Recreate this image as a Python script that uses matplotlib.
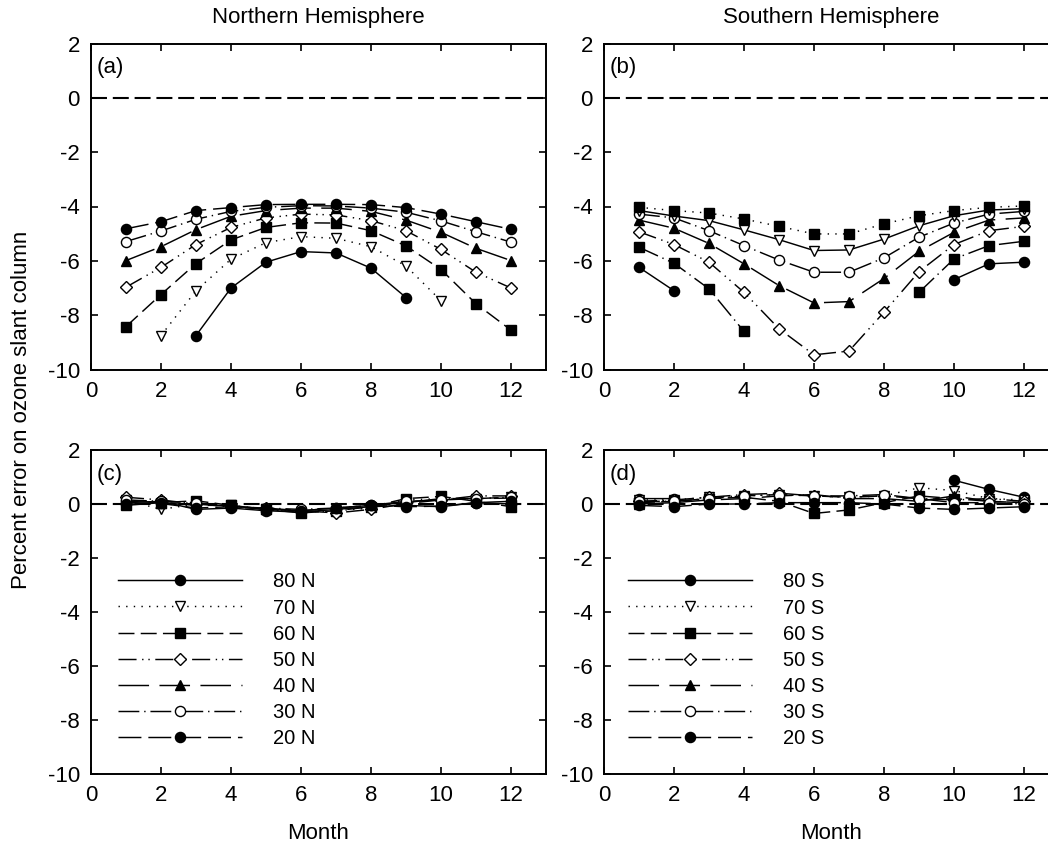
import numpy as np
import matplotlib
matplotlib.use("Agg")
import matplotlib.pyplot as plt

plt.rcParams['font.family'] = ['Liberation Sans', 'DejaVu Sans']
plt.rcParams['lines.scale_dashes'] = False
plt.rcParams['axes.unicode_minus'] = False

months = np.arange(1, 13)
nan = np.nan

# ---- Panel (a): Northern Hemisphere, before correction ----
nh_labels = ['80 N', '70 N', '60 N', '50 N', '40 N', '30 N', '20 N']
a_80n = [nan, nan, -8.75, -7.00, -6.05, -5.66, -5.71, -6.27, -7.35, nan, nan, nan]
a_70n = [nan, -8.75, -7.10, -5.94, -5.33, -5.11, -5.17, -5.48, -6.19, -7.47, nan, nan]
a_60n = [-8.42, -7.24, -6.10, -5.23, -4.77, -4.60, -4.61, -4.89, -5.45, -6.32, -7.58, -8.55]
a_50n = [-6.97, -6.24, -5.40, -4.77, -4.42, -4.28, -4.31, -4.52, -4.89, -5.58, -6.42, -7.00]
a_40n = [-5.99, -5.48, -4.85, -4.36, -4.15, -4.06, -4.06, -4.18, -4.50, -4.95, -5.54, -5.99]
a_30n = [-5.29, -4.90, -4.47, -4.18, -4.03, -3.97, -3.98, -4.06, -4.21, -4.53, -4.93, -5.31]
a_20n = [-4.82, -4.56, -4.15, -4.04, -3.93, -3.92, -3.92, -3.93, -4.04, -4.28, -4.56, -4.84]

# ---- Panel (b): Southern Hemisphere, before correction ----
sh_labels = ['80 S', '70 S', '60 S', '50 S', '40 S', '30 S', '20 S']
b_80s = [-6.24, -7.10, nan, nan, nan, nan, nan, nan, nan, -6.69, -6.11, -6.05]
b_70s = [-5.50, -6.09, -7.03, -8.60, nan, nan, nan, nan, -7.16, -5.93, -5.44, -5.28]
b_60s = [-4.93, -5.40, -6.05, -7.16, -8.50, -9.46, -9.32, -7.89, -6.40, -5.40, -4.89, -4.73]
b_50s = [-4.50, -4.80, -5.36, -6.11, -6.91, -7.55, -7.50, -6.65, -5.65, -4.95, -4.50, -4.42]
b_40s = [-4.28, -4.42, -4.89, -5.44, -5.97, -6.42, -6.42, -5.89, -5.13, -4.61, -4.28, -4.18]
b_30s = [-4.15, -4.35, -4.52, -4.86, -5.22, -5.62, -5.60, -5.20, -4.71, -4.34, -4.13, -4.08]
b_20s = [-4.03, -4.15, -4.24, -4.46, -4.73, -5.01, -5.01, -4.64, -4.34, -4.15, -4.03, -3.98]

# ---- Panel (c): Northern Hemisphere, after correction ----
c_80n = [0.05, 0.10, -0.20, -0.15, -0.25, -0.30, -0.20, -0.10, -0.05, -0.10, 0.05, 0.00]
c_70n = [0.15, -0.20, 0.00, -0.05, -0.20, -0.30, -0.25, -0.15, 0.15, 0.20, 0.20, 0.25]
c_60n = [-0.05, 0.05, 0.12, -0.05, -0.20, -0.33, -0.25, -0.10, 0.20, 0.28, 0.10, -0.10]
c_50n = [0.25, 0.15, 0.00, -0.10, -0.15, -0.25, -0.33, -0.20, 0.02, 0.15, 0.30, 0.30]
c_40n = [0.10, 0.05, -0.05, -0.05, -0.20, -0.25, -0.15, -0.05, 0.05, 0.20, 0.20, 0.22]
c_30n = [0.15, 0.10, 0.05, -0.10, -0.15, -0.20, -0.15, -0.05, 0.10, 0.15, 0.20, 0.25]
c_20n = [0.00, 0.02, -0.15, -0.10, -0.20, -0.25, -0.15, -0.05, -0.10, -0.08, 0.05, 0.10]

# ---- Panel (d): Southern Hemisphere, after correction ----
d_80s = [0.20, 0.20, nan, nan, nan, nan, nan, nan, nan, 0.88, 0.54, 0.25]
d_70s = [0.15, 0.15, 0.25, 0.30, 0.35, 0.30, 0.25, 0.30, 0.60, 0.50, 0.20, 0.15]
d_60s = [0.05, 0.10, 0.20, 0.25, 0.10, -0.35, -0.22, 0.05, 0.30, 0.20, 0.10, 0.05]
d_50s = [0.10, 0.15, 0.25, 0.35, 0.40, 0.30, 0.25, 0.30, 0.20, 0.15, 0.20, 0.10]
d_40s = [0.00, 0.05, 0.15, 0.20, 0.30, 0.35, 0.20, 0.20, 0.10, 0.30, 0.10, 0.05]
d_30s = [0.10, 0.10, 0.20, 0.30, 0.35, 0.30, 0.30, 0.35, 0.20, 0.05, 0.05, 0.00]
d_20s = [-0.05, -0.10, 0.00, 0.00, 0.05, 0.05, 0.05, 0.00, -0.15, -0.20, -0.15, -0.10]

# ---- styles (gnuplot-like) ----
LS = {
    'solid': '-',
    'dot': (0, (1.0, 4.5)),
    'dash': (0, (11.5, 4.5)),
    'dashdotdot': (0, (13, 4, 1, 3.5, 1, 4)),
    'longdash': (0, (22, 7.5)),
    'dashdot': (0, (15, 3.5, 1, 3.5)),
    'dash2': (0, (16.5, 5)),
}
MK = {
    'fcircle': dict(marker='o', mfc='black', ms=7.3),
    'ocircle': dict(marker='o', mfc='white', ms=7.3),
    'fsquare': dict(marker='s', mfc='black', ms=6.8),
    'otri_dn': dict(marker='v', mfc='white', ms=7.8),
    'odiamond': dict(marker='D', mfc='white', ms=5.8),
    'ftri_up': dict(marker='^', mfc='black', ms=7.8),
}
legend_ls = ['solid', 'dot', 'dash', 'dashdotdot', 'longdash', 'dashdot', 'dash2']
legend_mk = ['fcircle', 'otri_dn', 'fsquare', 'odiamond', 'ftri_up', 'ocircle', 'fcircle']
# visual style per curve in panel (b)
b_ls = ['solid', 'dashdot', 'dashdotdot', 'longdash', 'dashdot', 'solid', 'dot']
b_mk = ['fcircle', 'fsquare', 'odiamond', 'ftri_up', 'ocircle', 'otri_dn', 'fsquare']

W, H = 1048, 852
fig = plt.figure(figsize=(W / 100, H / 100), dpi=100)


def make_ax(left, top, width, height):
    return fig.add_axes([left / W, 1 - (top + height) / H, width / W, height / H])


ax_a = make_ax(91, 43.5, 455, 326)
ax_b = make_ax(604, 43.5, 455, 326)
ax_c = make_ax(91, 450, 455, 324)
ax_d = make_ax(604, 450, 455, 324)

FS = 16
LW = 1.05


def draw(ax, series, ls_list, mk_list, labels):
    for vals, ls, mk, lab in zip(series, ls_list, mk_list, labels):
        ax.plot(months, vals, linestyle=LS[ls], color='black', lw=LW,
                mec='black', mew=1.0, label=lab, **MK[mk])


draw(ax_a, [a_80n, a_70n, a_60n, a_50n, a_40n, a_30n, a_20n], legend_ls, legend_mk, nh_labels)
draw(ax_b, [b_80s, b_70s, b_60s, b_50s, b_40s, b_30s, b_20s], b_ls, b_mk, sh_labels)
draw(ax_c, [c_80n, c_70n, c_60n, c_50n, c_40n, c_30n, c_20n], legend_ls, legend_mk, nh_labels)
draw(ax_d, [d_80s, d_70s, d_60s, d_50s, d_40s, d_30s, d_20s], legend_ls, legend_mk, sh_labels)

for ax, lab in zip([ax_a, ax_b, ax_c, ax_d], ['(a)', '(b)', '(c)', '(d)']):
    ax.axhline(0, color='black', lw=1.5, linestyle=(0, (11.5, 4.2)), zorder=0.5)
    ax.set_xlim(0, 13)
    ax.set_ylim(-10, 2)
    ax.set_xticks(np.arange(0, 13, 2))
    ax.set_yticks(np.arange(-10, 3, 2))
    ax.tick_params(direction='in', length=5, width=1.2, top=True, right=True,
                   labelsize=FS)
    ax.tick_params(axis='x', pad=8)
    ax.tick_params(axis='y', pad=8)
    for sp in ax.spines.values():
        sp.set_linewidth(1.4)
    ax.text(0.013, 0.958, lab, transform=ax.transAxes, ha='left', va='top', fontsize=FS)

ax_a.set_title('Northern Hemisphere', fontsize=FS, pad=14.5)
ax_b.set_title('Southern Hemisphere', fontsize=FS, pad=14.5)
ax_c.set_xlabel('Month', fontsize=FS, labelpad=12)
ax_d.set_xlabel('Month', fontsize=FS, labelpad=12)
fig.text(22 / W, 1 - 410 / H, 'Percent error on ozone slant column', rotation=90,
         ha='center', va='center', fontsize=FS)

for ax, x0 in [(ax_c, (118 - 91) / 455), (ax_d, (628 - 604) / 455)]:
    ax.legend(loc='upper left', bbox_to_anchor=(x0, 0.622), frameon=False,
              fontsize=14.5, handlelength=6.17, handletextpad=1.54, numpoints=1,
              labelspacing=0.35, borderaxespad=0, borderpad=0)

fig.savefig('out.png', dpi=100)
